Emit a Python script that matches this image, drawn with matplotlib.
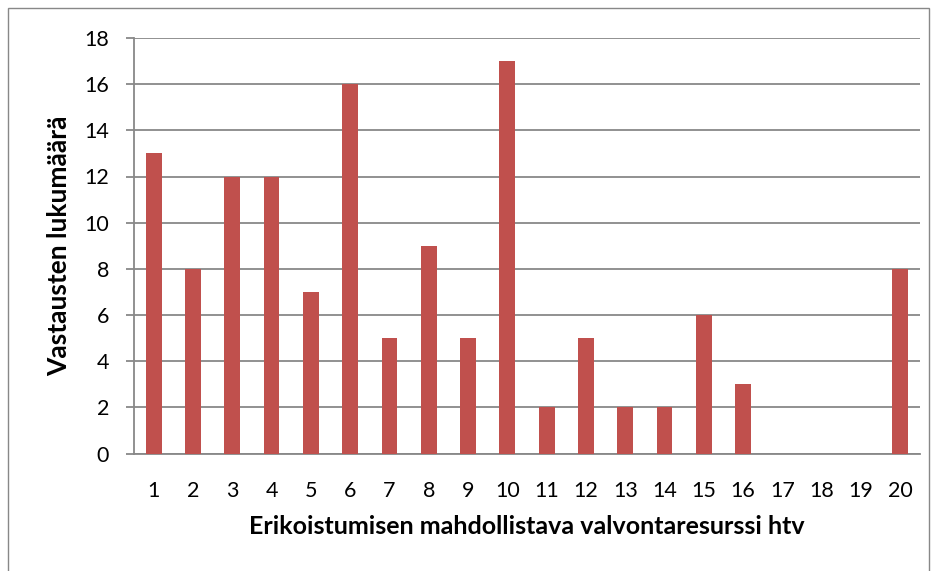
import matplotlib
matplotlib.use("Agg")
import matplotlib.pyplot as plt
from matplotlib.patches import Rectangle

categories = [str(i) for i in range(1, 21)]
values = [13, 8, 12, 12, 7, 16, 5, 9, 5, 17, 2, 5, 2, 2, 6, 3, 0, 0, 0, 8]
y_ticks = [0, 2, 4, 6, 8, 10, 12, 14, 16, 18]

plt.rcParams['font.family'] = ['Lato', 'DejaVu Sans']

W, H = 937, 571
fig = plt.figure(figsize=(W / 100, H / 100), dpi=100)
ax = fig.add_axes([134 / W, 1 - 453.5 / H, (920 - 134) / W, (453.5 - 38) / H])

x = list(range(len(categories)))
ax.bar(x, values, width=0.4, color='#C0504D', zorder=3)
ax.set_xlim(-0.5, len(categories) - 0.5)
ax.set_ylim(0, 18)
ax.set_yticks(y_ticks)
ax.set_xticks(x)
ax.set_xticklabels(categories)
ax.grid(axis='y', color='#888888', linewidth=1.3, zorder=0)
for s in ['top', 'right']:
    ax.spines[s].set_visible(False)
ax.spines['left'].set_color('#888888')
ax.spines['bottom'].set_color('#888888')
ax.spines['left'].set_linewidth(1.3)
ax.spines['bottom'].set_linewidth(1.3)
ax.tick_params(axis='y', length=6, width=1.3, color='#888888', labelsize=15.5, pad=12)
ax.tick_params(axis='x', length=0, labelsize=15.5, pad=20)
ax.set_ylabel('Vastausten lukumäärä', fontsize=19, fontweight='bold', labelpad=9)
ax.set_xlabel('Erikoistumisen mahdollistava valvontaresurssi htv', fontsize=18, fontweight='bold', labelpad=10)

fig.patches.append(Rectangle((8 / W, -0.1), (929 - 8) / W, 1.1 - 8 / H, transform=fig.transFigure,
                             fill=False, edgecolor='#888888', linewidth=1.0))

fig.savefig('out.png', dpi=100)
